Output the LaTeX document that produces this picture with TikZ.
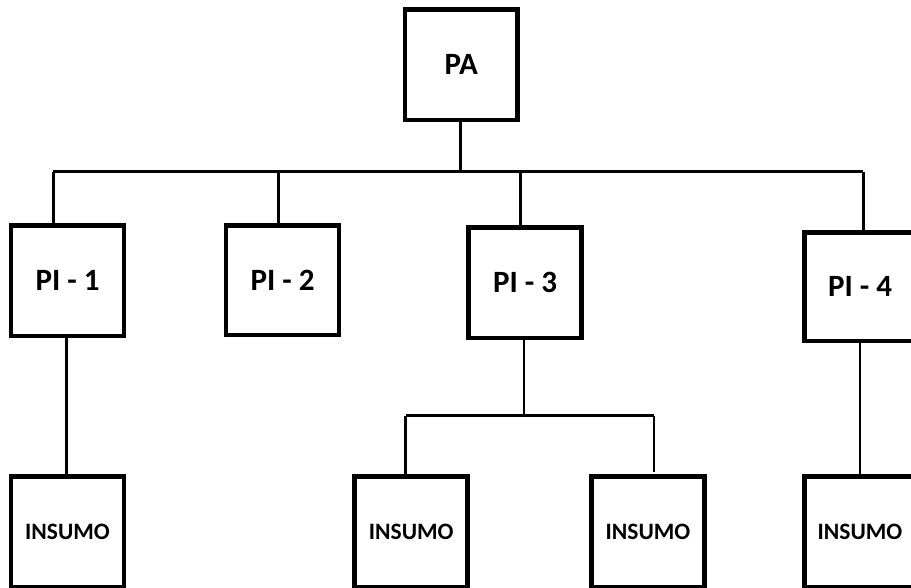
\documentclass[tikz,border=0pt]{standalone}
\usepackage{fontspec}
\setmainfont{Carlito}
\begin{document}
\begin{tikzpicture}[x=1pt,y=-1pt,
  box/.style={draw=black,line width=4.5pt,fill=white,inner sep=0pt,minimum width=113pt,minimum height=110.5pt,font=\fontsize{31}{31}\selectfont\bfseries},
  ibox/.style={box,font=\fontsize{23.5}{23.5}\selectfont\bfseries},
  conn/.style={draw=black,line width=2.7pt}]
\clip (0,0) rectangle (911,587);
\fill[white] (0,0) rectangle (911,587);
% top
\node[box,minimum width=112.5pt,minimum height=110.5pt] (PA) at (461.3,64.8) {PA};
\node[box] (PI1) at (67.5,280.8) {PI - 1};
\node[box,minimum height=109.5pt] (PI2) at (282.5,280.3) {PI - 2};
\node[box] (PI3) at (525,282.5) {PI - 3};
\node[box,minimum width=111pt,minimum height=108.8pt] (PI4) at (860,286.7) {PI - 4};
\node[ibox,minimum height=111pt] (IN1) at (67.5,532) {INSUMO};
\node[ibox,minimum height=111pt] (IN2) at (411.2,532) {INSUMO};
\node[ibox,minimum height=111pt] (IN3) at (648,532) {INSUMO};
\node[ibox,minimum width=111pt,minimum height=111pt] (IN4) at (860,532) {INSUMO};
% bus coordinates
\coordinate (b0) at (460.7,171.5);
\coordinate (d1) at (53.3,171.5);
\coordinate (d2) at (278.3,171.5);
\coordinate (d3) at (520.7,171.5);
\coordinate (d4) at (863.3,171.5);
\draw[conn] (PA.south -| b0) -- (b0);
\draw[conn] (d1) -- (d4);
\draw[conn] (d1) -- (d1 |- PI1.north);
\draw[conn] (d2) -- (d2 |- PI2.north);
\draw[conn] (d3) -- (d3 |- PI3.north);
\draw[conn] (d4) -- (d4 |- PI4.north);
% lower
\coordinate (e1) at (66.7,0);
\draw[conn] (e1 |- PI1.south) -- (e1 |- IN1.north);
\coordinate (s3) at (524,415.7);
\coordinate (sl) at (405.7,415.7);
\coordinate (sr) at (654,415.7);
\coordinate (sre) at (654,471.7);
\draw[conn] (s3 |- PI3.south) -- (s3);
\draw[conn] (sl) -- (sr);
\draw[conn] (sl) -- (sl |- IN2.north);
\draw[conn] (sr) -- (sre);
\coordinate (e4) at (860,0);
\draw[conn] (e4 |- PI4.south) -- (e4 |- IN4.north);
\end{tikzpicture}
\end{document}
